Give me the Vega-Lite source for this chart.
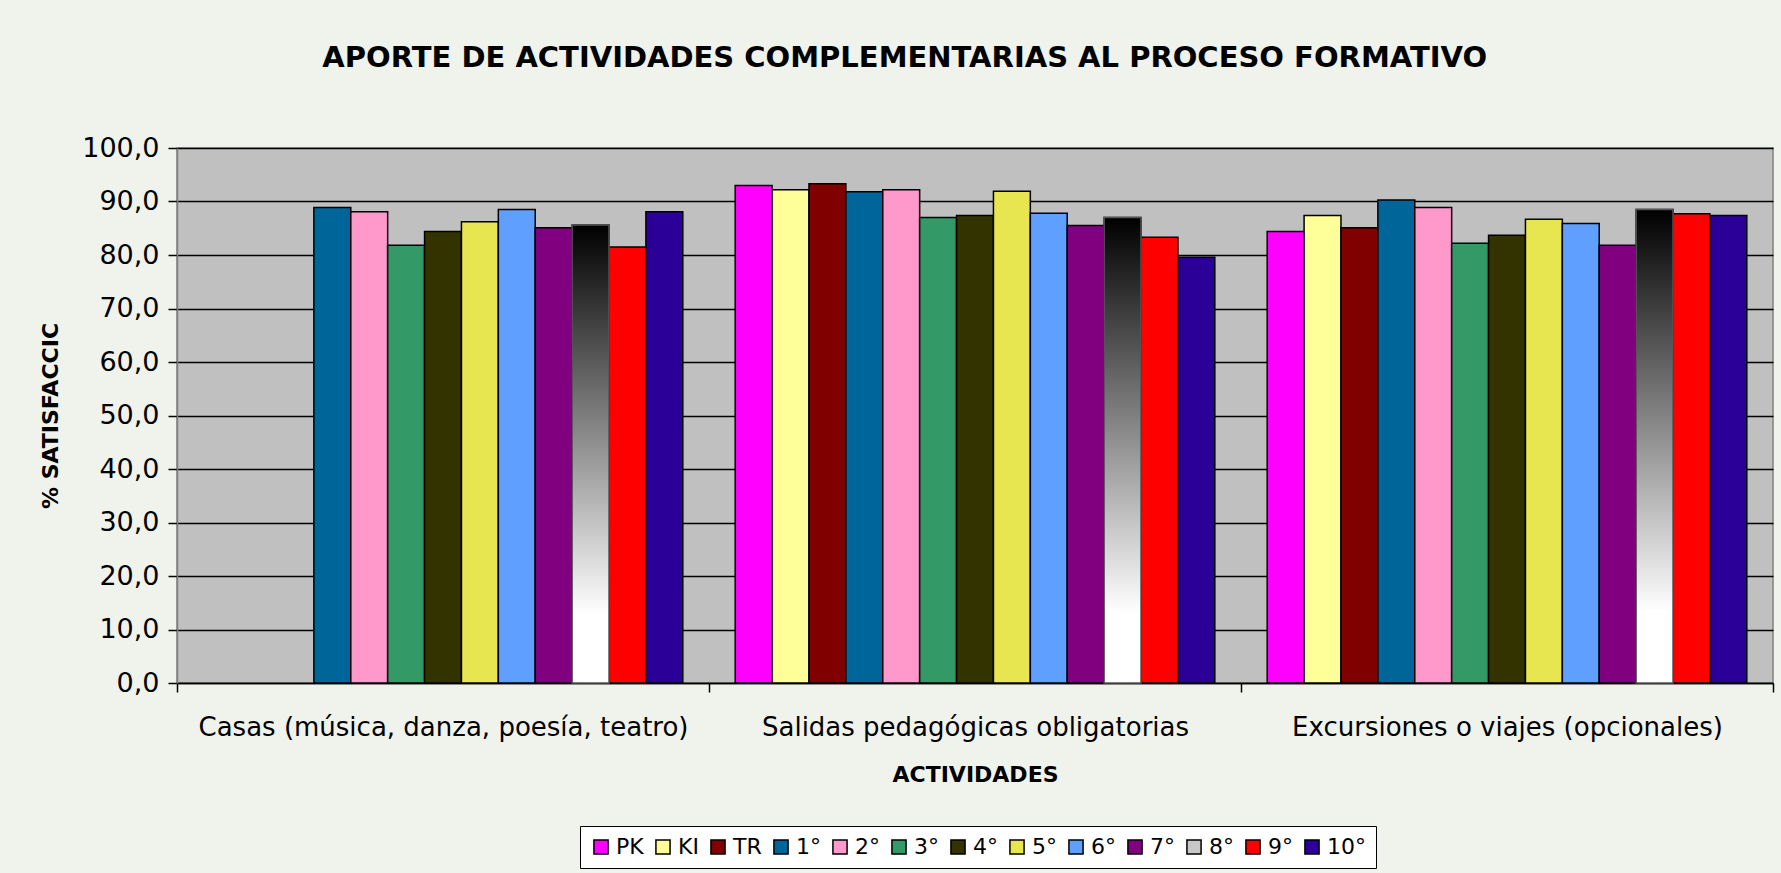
{
  "$schema": "https://vega.github.io/schema/vega-lite/v6.json",
  "width": 1596,
  "height": 535,
  "autosize": {"type": "none"},
  "padding": {"left": 177, "top": 148, "right": 8, "bottom": 190},
  "background": "#f0f2ec",
  "title": {
    "text": "APORTE DE ACTIVIDADES COMPLEMENTARIAS AL PROCESO FORMATIVO",
    "font": "DejaVu Sans",
    "fontSize": 29,
    "fontWeight": "bold",
    "color": "black",
    "anchor": "middle",
    "frame": "bounds",
    "offset": 61,
    "dx": -2
  },
  "data": {
    "values": [
      {"actividad": "Casas (música, danza, poesía, teatro)", "grado": "1°", "valor": 88.9},
      {"actividad": "Casas (música, danza, poesía, teatro)", "grado": "2°", "valor": 88.1},
      {"actividad": "Casas (música, danza, poesía, teatro)", "grado": "3°", "valor": 81.8},
      {"actividad": "Casas (música, danza, poesía, teatro)", "grado": "4°", "valor": 84.4},
      {"actividad": "Casas (música, danza, poesía, teatro)", "grado": "5°", "valor": 86.2},
      {"actividad": "Casas (música, danza, poesía, teatro)", "grado": "6°", "valor": 88.5},
      {"actividad": "Casas (música, danza, poesía, teatro)", "grado": "7°", "valor": 85.1},
      {"actividad": "Casas (música, danza, poesía, teatro)", "grado": "8°", "valor": 85.6},
      {"actividad": "Casas (música, danza, poesía, teatro)", "grado": "9°", "valor": 81.5},
      {"actividad": "Casas (música, danza, poesía, teatro)", "grado": "10°", "valor": 88.1},
      {"actividad": "Salidas pedagógicas obligatorias", "grado": "PK", "valor": 93.0},
      {"actividad": "Salidas pedagógicas obligatorias", "grado": "KI", "valor": 92.2},
      {"actividad": "Salidas pedagógicas obligatorias", "grado": "TR", "valor": 93.3},
      {"actividad": "Salidas pedagógicas obligatorias", "grado": "1°", "valor": 91.8},
      {"actividad": "Salidas pedagógicas obligatorias", "grado": "2°", "valor": 92.2},
      {"actividad": "Salidas pedagógicas obligatorias", "grado": "3°", "valor": 87.0},
      {"actividad": "Salidas pedagógicas obligatorias", "grado": "4°", "valor": 87.4},
      {"actividad": "Salidas pedagógicas obligatorias", "grado": "5°", "valor": 91.9},
      {"actividad": "Salidas pedagógicas obligatorias", "grado": "6°", "valor": 87.8},
      {"actividad": "Salidas pedagógicas obligatorias", "grado": "7°", "valor": 85.5},
      {"actividad": "Salidas pedagógicas obligatorias", "grado": "8°", "valor": 87.0},
      {"actividad": "Salidas pedagógicas obligatorias", "grado": "9°", "valor": 83.3},
      {"actividad": "Salidas pedagógicas obligatorias", "grado": "10°", "valor": 79.6},
      {"actividad": "Excursiones o viajes (opcionales)", "grado": "PK", "valor": 84.4},
      {"actividad": "Excursiones o viajes (opcionales)", "grado": "KI", "valor": 87.4},
      {"actividad": "Excursiones o viajes (opcionales)", "grado": "TR", "valor": 85.1},
      {"actividad": "Excursiones o viajes (opcionales)", "grado": "1°", "valor": 90.3},
      {"actividad": "Excursiones o viajes (opcionales)", "grado": "2°", "valor": 88.9},
      {"actividad": "Excursiones o viajes (opcionales)", "grado": "3°", "valor": 82.2},
      {"actividad": "Excursiones o viajes (opcionales)", "grado": "4°", "valor": 83.7},
      {"actividad": "Excursiones o viajes (opcionales)", "grado": "5°", "valor": 86.7},
      {"actividad": "Excursiones o viajes (opcionales)", "grado": "6°", "valor": 85.9},
      {"actividad": "Excursiones o viajes (opcionales)", "grado": "7°", "valor": 81.8},
      {"actividad": "Excursiones o viajes (opcionales)", "grado": "8°", "valor": 88.5},
      {"actividad": "Excursiones o viajes (opcionales)", "grado": "9°", "valor": 87.7},
      {"actividad": "Excursiones o viajes (opcionales)", "grado": "10°", "valor": 87.4}
    ]
  },
  "encoding": {
    "x": {
      "field": "actividad",
      "type": "nominal",
      "sort": ["Casas (música, danza, poesía, teatro)", "Salidas pedagógicas obligatorias", "Excursiones o viajes (opcionales)"],
      "scale": {"paddingInner": 0, "paddingOuter": 0},
      "axis": {
        "title": "ACTIVIDADES",
        "titleFont": "DejaVu Sans",
        "titleFontSize": 22,
        "titleFontWeight": "bold",
        "titleColor": "black",
        "titlePadding": 24,
        "labelFont": "DejaVu Sans",
        "labelFontSize": 26,
        "labelColor": "black",
        "labelAngle": 0,
        "labelPadding": 22,
        "labelLimit": 0,
        "tickBand": "extent",
        "tickSize": 9,
        "tickColor": "black",
        "tickWidth": 1.5,
        "domainColor": "black",
        "domainWidth": 1.5,
        "grid": false
      }
    },
    "xOffset": {
      "field": "grado",
      "type": "nominal",
      "scale": {"domain": ["PK", "KI", "TR", "1°", "2°", "3°", "4°", "5°", "6°", "7°", "8°", "9°", "10°"], "paddingInner": 0, "paddingOuter": 0.71}
    },
    "y": {
      "field": "valor",
      "type": "quantitative",
      "scale": {"domain": [0, 100]},
      "axis": {
        "title": "% SATISFACCIC",
        "titleFont": "DejaVu Sans",
        "titleFontSize": 22,
        "titleFontWeight": "bold",
        "titleColor": "black",
        "titlePadding": 19,
        "values": [0, 10, 20, 30, 40, 50, 60, 70, 80, 90, 100],
        "labelExpr": "replace(format(datum.value, '.1f'), '.', ',')",
        "labelFont": "DejaVu Sans",
        "labelFontSize": 27,
        "labelColor": "black",
        "labelPadding": 9,
        "tickSize": 9,
        "tickColor": "black",
        "tickWidth": 1.5,
        "domainColor": "#808080",
        "domainWidth": 1.5,
        "grid": true,
        "gridColor": "black",
        "gridWidth": 1.5
      }
    }
  },
  "layer": [
    {
      "mark": {"type": "bar", "stroke": "black", "strokeWidth": 1.5},
      "encoding": {
        "color": {
          "field": "grado",
          "type": "nominal",
          "scale": {
            "domain": ["PK", "KI", "TR", "1°", "2°", "3°", "4°", "5°", "6°", "7°", "8°", "9°", "10°"],
            "range": ["#FF00FF", "#FFFF99", "#800000", "#006699", "#FF99CC", "#339966", "#333300", "#E8E650", "#5F9FFF", "#800080", "#C8C8C8", "#FF0000", "#2A0099"]
          },
          "legend": {
            "orient": "none",
            "legendX": 403,
            "legendY": 678,
            "direction": "horizontal",
            "columns": 13,
            "title": null,
            "symbolType": "square",
            "symbolSize": 200,
            "symbolStrokeColor": "black",
            "symbolStrokeWidth": 1.5,
            "symbolOpacity": 1,
            "labelFont": "DejaVu Sans",
            "labelFontSize": 22,
            "labelColor": "black",
            "labelOffset": 4,
            "columnPadding": 8,
            "padding": 10,
            "strokeColor": "black",
            "fillColor": "white"
          }
        }
      }
    },
    {
      "transform": [{"filter": "datum.grado === '8°'"}],
      "mark": {
        "type": "bar",
        "stroke": "#555555",
        "strokeWidth": 1.5,
        "fill": {"gradient": "linear", "x1": 0, "y1": 0, "x2": 0, "y2": 1, "stops": [{"offset": 0, "color": "#000000"}, {"offset": 0.85, "color": "#ffffff"}, {"offset": 1, "color": "#ffffff"}]}
      }
    }
  ],
  "config": {
    "view": {"fill": "#C0C0C0", "stroke": "#808080", "strokeWidth": 1.5},
    "font": "DejaVu Sans"
  }
}
